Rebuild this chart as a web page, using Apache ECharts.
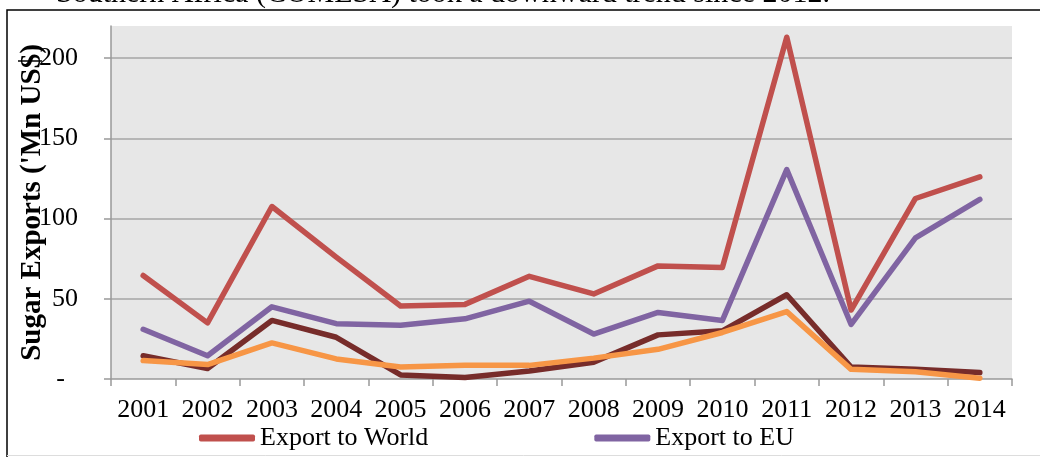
<!DOCTYPE html>
<html>
<head>
<meta charset="utf-8">
<script src="https://cdn.jsdelivr.net/npm/echarts@6/dist/echarts.min.js"></script>
<style>
  html, body { margin: 0; padding: 0; background: #fff; }
  #chart { width: 1040px; height: 457px; }
</style>
</head>
<body>
<div id="chart"></div>
<script>
// years on the x axis
const years = ['2001','2002','2003','2004','2005','2006','2007','2008','2009','2010','2011','2012','2013','2014'];
// 'Mn US$
const toWorld = [64.5, 35, 107.5, 76, 45.5, 46.5, 64, 53, 70.5, 69.5, 213, 43, 112.5, 126];
const toEU = [31, 14.5, 45, 34.5, 33.5, 37.5, 48.5, 28, 41.5, 36.5, 130.5, 34, 88, 112];
const darkSeries = [14.5, 6.5, 36.5, 26, 2.5, 1, 5, 10.5, 27.5, 30, 52.5, 7.5, 6, 4];
const orangeSeries = [11.5, 9, 22.5, 12.5, 7.5, 8.5, 8.5, 13, 18.5, 29, 42, 6, 4.5, 0.5];
const yTicks = [0, 50, 100, 150, 200];

const serif = '"Liberation Serif", "DejaVu Serif", serif';
const chart = echarts.init(document.getElementById('chart'));

function lineSeries(name, data, color) {
  return {
    name: name,
    type: 'line',
    data: data,
    symbol: 'none',
    lineStyle: { color: color, width: 5.5, cap: 'round', join: 'round' },
    itemStyle: { color: color }
  };
}

const option = {
  animation: false,
  backgroundColor: '#fff',
  graphic: [
    {
      // caption of the page above, cut off by the crop
      type: 'text',
      right: 210,
      top: -21,
      style: {
        text: 'Southern Africa (COMESA) took a downward trend since 2012.',
        font: '30px ' + serif,
        fill: '#000'
      }
    },
    {
      type: 'rect',
      shape: { x: 7, y: 10, width: 1100, height: 500 },
      style: { fill: 'none', stroke: '#000', lineWidth: 1.5 }
    },
    {
      type: 'line',
      shape: { x1: 7, y1: 455.5, x2: 1040, y2: 455.5 },
      style: { stroke: '#ddd', lineWidth: 1 }
    }
  ],
  grid: {
    left: 111, right: 28, top: 26, bottom: 78,
    show: true, backgroundColor: '#e7e7e7', borderWidth: 0
  },
  legend: {
    data: ['Export to World', 'Export to EU'],
    left: 194,
    top: 420,
    icon: 'roundRect',
    itemWidth: 56,
    itemHeight: 7,
    itemGap: 166,
    textStyle: { fontFamily: serif, fontSize: 26, color: '#000' }
  },
  xAxis: {
    type: 'category',
    data: years,
    boundaryGap: true,
    axisLine: { lineStyle: { color: '#999', width: 1.5 } },
    axisTick: { show: true, length: 7, lineStyle: { color: '#999', width: 1.5 } },
    axisLabel: { fontFamily: serif, fontSize: 26, color: '#000', margin: 18, interval: 0 }
  },
  yAxis: {
    type: 'value',
    min: 0,
    max: 220,
    interval: 50,
    name: "Sugar Exports ('Mn US$)",
    nameLocation: 'middle',
    nameGap: 64,
    nameMoveOverlap: false,
    nameTextStyle: { fontFamily: serif, fontSize: 29, fontWeight: 'bold', color: '#000' },
    axisLine: { show: true, lineStyle: { color: '#999', width: 1.5 } },
    axisTick: { show: true, length: 7, inside: false, lineStyle: { color: '#999', width: 1.5 } },
    splitLine: { show: true, showMaxLine: false, showMinLine: false, lineStyle: { color: '#a6a6a6', width: 1.5 } },
    axisLabel: {
      fontFamily: serif, fontSize: 26, color: '#000', margin: 33,
      showMaxLabel: false,
      formatter: function (v) { return yTicks.indexOf(v) < 0 ? '' : (v === 0 ? '-  ' : String(v)); }
    }
  },
  series: [
    lineSeries('Export to World', toWorld, '#c0504d'),
    lineSeries('Export to EU', toEU, '#8064a2'),
    lineSeries('Export to COMESA', darkSeries, '#772c2a'),
    lineSeries('Export to SADC', orangeSeries, '#f79646')
  ]
};

chart.setOption(option);
</script>
</body>
</html>
